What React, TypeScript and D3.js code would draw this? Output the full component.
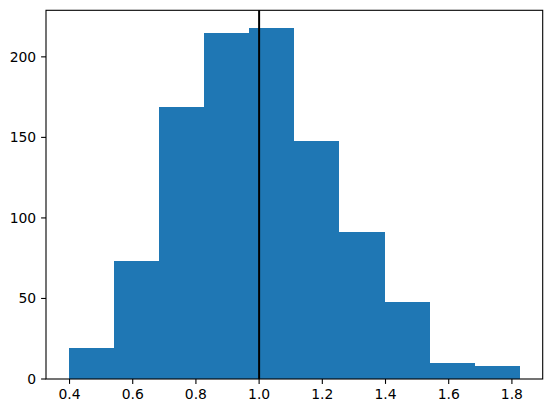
import React from "react";
import * as d3 from "d3";

const binEdges = [0.397, 0.540, 0.683, 0.826, 0.968, 1.111, 1.254, 1.397, 1.540, 1.683, 1.826];
const counts = [19, 73, 169, 215, 218, 148, 91, 48, 10, 8];
const xTicks = [0.4, 0.6, 0.8, 1.0, 1.2, 1.4, 1.6, 1.8];
const yTicks = [0, 50, 100, 150, 200];
const refLine = 1.0;

export default function App() {
  const W = 552, H = 413;
  const left = 46, right = 542.7, top = 10.3, bottom = 379;
  const span = binEdges[binEdges.length - 1] - binEdges[0];
  const x = d3.scaleLinear()
    .domain([binEdges[0] - 0.05 * span, binEdges[binEdges.length - 1] + 0.05 * span])
    .range([left, right]);
  const y = d3.scaleLinear().domain([0, d3.max(counts)! * 1.05]).range([bottom, top]);
  const font = "DejaVu Sans, sans-serif";
  return (
    <svg width={W} height={H} style={{ position: "absolute", left: 0, top: 0, background: "#fff" }}>
      {counts.map((c, i) => (
        <rect key={i}
          x={x(binEdges[i])} y={y(c)}
          width={x(binEdges[i + 1]) - x(binEdges[i])}
          height={y(0) - y(c)}
          fill="#1f77b4" shapeRendering="crispEdges" />
      ))}
      <line x1={x(refLine)} x2={x(refLine)} y1={top} y2={bottom} stroke="#000" strokeWidth={2} />
      <rect x={left} y={top} width={right - left} height={bottom - top} fill="none" stroke="#000" strokeWidth={1.1} />
      {xTicks.map((t) => (
        <g key={t}>
          <line x1={x(t)} x2={x(t)} y1={bottom} y2={bottom + 4.9} stroke="#000" strokeWidth={1.1} />
          <text x={x(t)} y={bottom + 9.8} dy="0.76em" textAnchor="middle" fontFamily={font} fontSize={13.9} fill="#000">
            {d3.format(".1f")(t)}
          </text>
        </g>
      ))}
      {yTicks.map((t) => (
        <g key={t}>
          <line x1={left - 4.9} x2={left} y1={y(t)} y2={y(t)} stroke="#000" strokeWidth={1.1} />
          <text x={left - 9.8} y={y(t)} dy="0.36em" textAnchor="end" fontFamily={font} fontSize={13.9} fill="#000">
            {t}
          </text>
        </g>
      ))}
    </svg>
  );
}
